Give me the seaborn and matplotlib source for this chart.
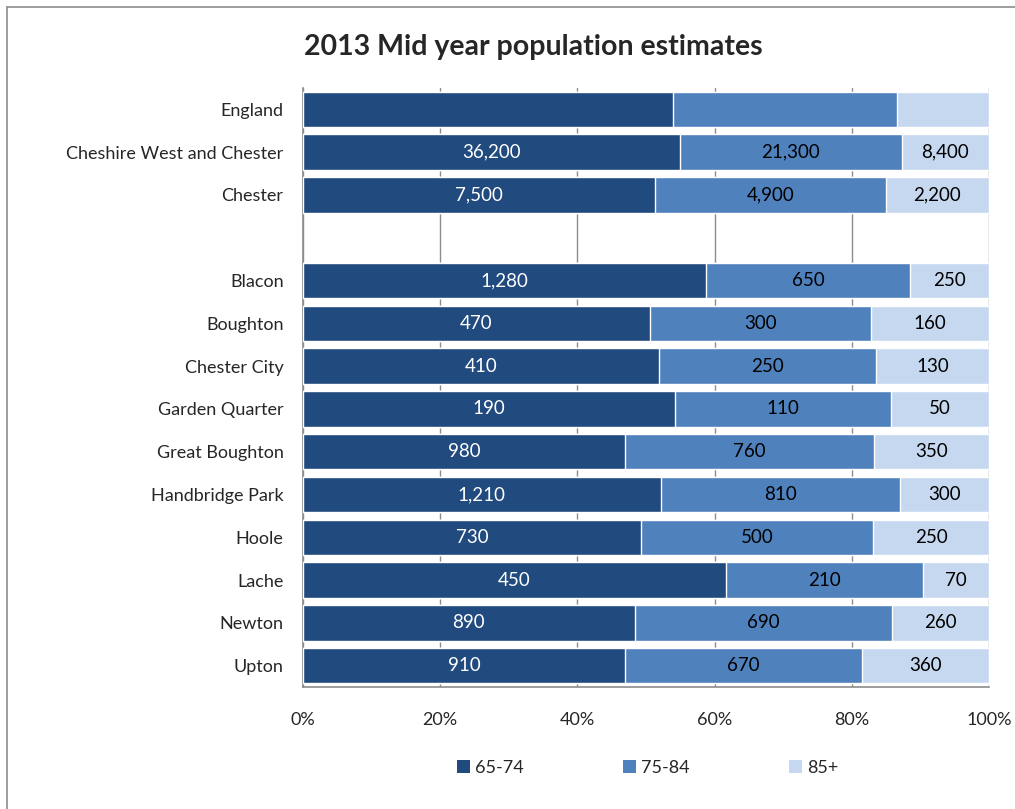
import numpy as np
import pandas as pd
import matplotlib
matplotlib.use("Agg")
import matplotlib.pyplot as plt
import seaborn as sns
from matplotlib.lines import Line2D
from matplotlib.patches import Patch

# -------------------------------
# DATA
# -------------------------------
areas = ["England", "Cheshire West and Chester", "Chester",
         "Blacon", "Boughton", "Chester City", "Garden Quarter",
         "Great Boughton", "Handbridge Park", "Hoole", "Lache",
         "Newton", "Upton"]
age_65_74 = [53.9, 36200, 7500, 1280, 470, 410, 190, 980, 1210, 730, 450, 890, 910]
age_75_84 = [32.7, 21300, 4900, 650, 300, 250, 110, 760, 810, 500, 210, 690, 670]
age_85_plus = [13.4, 8400, 2200, 250, 160, 130, 50, 350, 300, 250, 70, 260, 360]
show_labels = [False, True, True, True, True, True, True, True, True, True, True, True, True]
groups = ["65-74", "75-84", "85+"]
colors = ["#214A7E", "#4F81BD", "#C6D8EF"]

# row order with a blank gap after Chester
order = areas[:3] + [" "] + areas[3:]

df = pd.DataFrame({"area": areas, "a": age_65_74, "b": age_75_84, "c": age_85_plus})
tot = df[["a", "b", "c"]].sum(axis=1)
df["pa"] = df["a"] / tot * 100
df["pb"] = df["b"] / tot * 100
df["pc"] = df["c"] / tot * 100
df["cum1"] = df["pa"]
df["cum2"] = df["pa"] + df["pb"]
df["cum3"] = df["cum2"] + df["pc"]

# -------------------------------
# PLOT
# -------------------------------
sns.set_style("white")
plt.rcParams["font.family"] = ["Lato", "DejaVu Sans"]

fig = plt.figure(figsize=(10.15, 8.09), dpi=100)
ax = fig.add_axes([0.2985, 0.1508, 0.6759, 0.7404])

bw = 0.83
for col, c in zip(["cum3", "cum2", "cum1"], colors[::-1]):
    sns.barplot(data=df, y="area", x=col, order=order, orient="h",
                color=c, width=bw, saturation=1, ax=ax, zorder=3)

# data labels
pos = {a: i for i, a in enumerate(order)}
for _, r in df.iterrows():
    if not show_labels[areas.index(r["area"])]:
        continue
    y = pos[r["area"]]
    ax.text(r["pa"] / 2, y, f"{r['a']:,.0f}", ha="center", va="center",
            color="white", fontsize=13.5, zorder=5)
    ax.text(r["pa"] + r["pb"] / 2, y, f"{r['b']:,.0f}", ha="center", va="center",
            color="black", fontsize=13.5, zorder=5)
    ax.text(r["cum2"] + r["pc"] / 2, y, f"{r['c']:,.0f}", ha="center", va="center",
            color="black", fontsize=13.5, zorder=5)

ax.set_xlim(0, 100)
ax.set_ylim(len(order) - 0.5, -0.5)
ax.set_xticks([0, 20, 40, 60, 80, 100])
ax.set_xticklabels(["0%", "20%", "40%", "60%", "80%", "100%"])
ax.set_xlabel("")
ax.set_ylabel("")
ax.xaxis.grid(True, color="#8C8C8C", linewidth=1, zorder=0)
ax.set_axisbelow(True)

for s in ["top", "right"]:
    ax.spines[s].set_visible(False)
for s in ["left", "bottom"]:
    ax.spines[s].set_color("#8C8C8C")
    ax.spines[s].set_linewidth(1.2)

ax.tick_params(axis="y", which="major", length=0, pad=14, labelsize=13)
ax.set_yticks(np.arange(-0.5, len(order), 1), minor=True)
ax.tick_params(axis="y", which="minor", length=4, color="#8C8C8C", direction="out")
ax.tick_params(axis="x", length=4, color="#8C8C8C", direction="out", pad=14, labelsize=13)

fig.suptitle("2013 Mid year population estimates", x=0.525, y=0.958,
             fontsize=20.5, fontweight="bold")

handles = [Patch(facecolor=c, edgecolor="none") for c in colors]
fig.legend(handles, groups, loc="center", bbox_to_anchor=(0.638, 0.051), ncol=3,
           frameon=False, fontsize=13, handlelength=0.7, handleheight=0.7,
           handletextpad=0.3, columnspacing=5.5)

# outer chart border
fig.add_artist(Line2D([7 / 1015, 7 / 1015], [0, 1 - 7 / 809], transform=fig.transFigure,
                      color="#8C8C8C", linewidth=1.2))
fig.add_artist(Line2D([7 / 1015, 1], [1 - 7 / 809, 1 - 7 / 809], transform=fig.transFigure,
                      color="#8C8C8C", linewidth=1.2))

plt.savefig("out.png", dpi=100)
